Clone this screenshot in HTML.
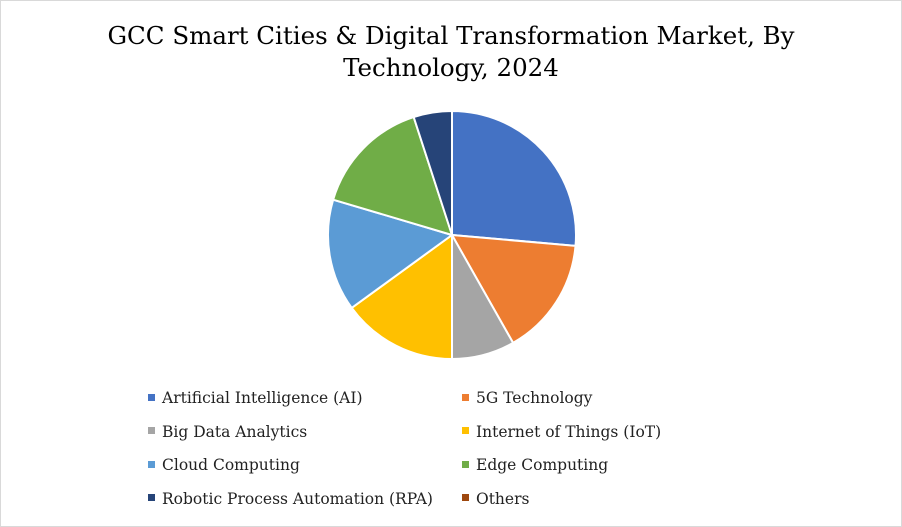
<!DOCTYPE html>
<html><head><meta charset="utf-8"><style>
body{margin:0;background:#fff;}
#wrap{position:relative;width:900px;height:525px;border:1px solid #d9d9d9;background:#fff;font-family:"DejaVu Serif","Liberation Serif",serif;}
#title{position:absolute;left:0;top:19px;width:900px;text-align:center;font-size:24.5px;line-height:32px;color:#000;}
.leg{position:absolute;font-size:15.5px;color:#222;white-space:nowrap;}
.leg span{display:inline-block;width:7px;height:7px;margin-right:7px;vertical-align:middle;position:relative;top:-2px;}
</style></head><body>
<div id="wrap">
<div id="title">GCC Smart Cities &amp; Digital Transformation Market, By<br>Technology, 2024</div>
<svg id="pie" width="900" height="525" style="position:absolute;left:0;top:0"></svg>
<div id="legend"></div>
</div>
<script>
const categories=["Artificial Intelligence (AI)","5G Technology","Big Data Analytics","Internet of Things (IoT)","Cloud Computing","Edge Computing","Robotic Process Automation (RPA)","Others"];
const values=[26.4,15.4,8.2,15,14.6,15.4,5,0];
const colors=["#4472c4","#ed7d31","#a5a5a5","#ffc000","#5b9bd5","#70ad47","#264478","#9e480e"];
const svg=document.getElementById('pie');
const cx=451,cy=234,r=124;
const total=values.reduce((a,b)=>a+b,0);
let a0=0;
function pt(a){return [cx+r*Math.sin(a),cy-r*Math.cos(a)];}
values.forEach((v,i)=>{
  if(v<=0)return;
  const a1=a0+v/total*2*Math.PI;
  const p0=pt(a0),p1=pt(a1);
  const large=(a1-a0)>Math.PI?1:0;
  const p=document.createElementNS('http://www.w3.org/2000/svg','path');
  p.setAttribute('d',`M${cx},${cy}L${p0[0]},${p0[1]}A${r},${r} 0 ${large} 1 ${p1[0]},${p1[1]}Z`);
  p.setAttribute('fill',colors[i]);p.setAttribute('stroke','#fff');p.setAttribute('stroke-width','2');
  
  
  svg.appendChild(p);
  a0=a1;
});
const leg=document.getElementById('legend');
categories.forEach((c,i)=>{
  const d=document.createElement('div');
  d.className='leg';
  d.style.left=(i%2?461:147)+'px';
  d.style.top=(388+Math.floor(i/2)*33.5)+'px';
  d.innerHTML='<span style="background:'+colors[i]+'"></span>'+c;
  
  
  leg.appendChild(d);
});
</script>
</body></html>
